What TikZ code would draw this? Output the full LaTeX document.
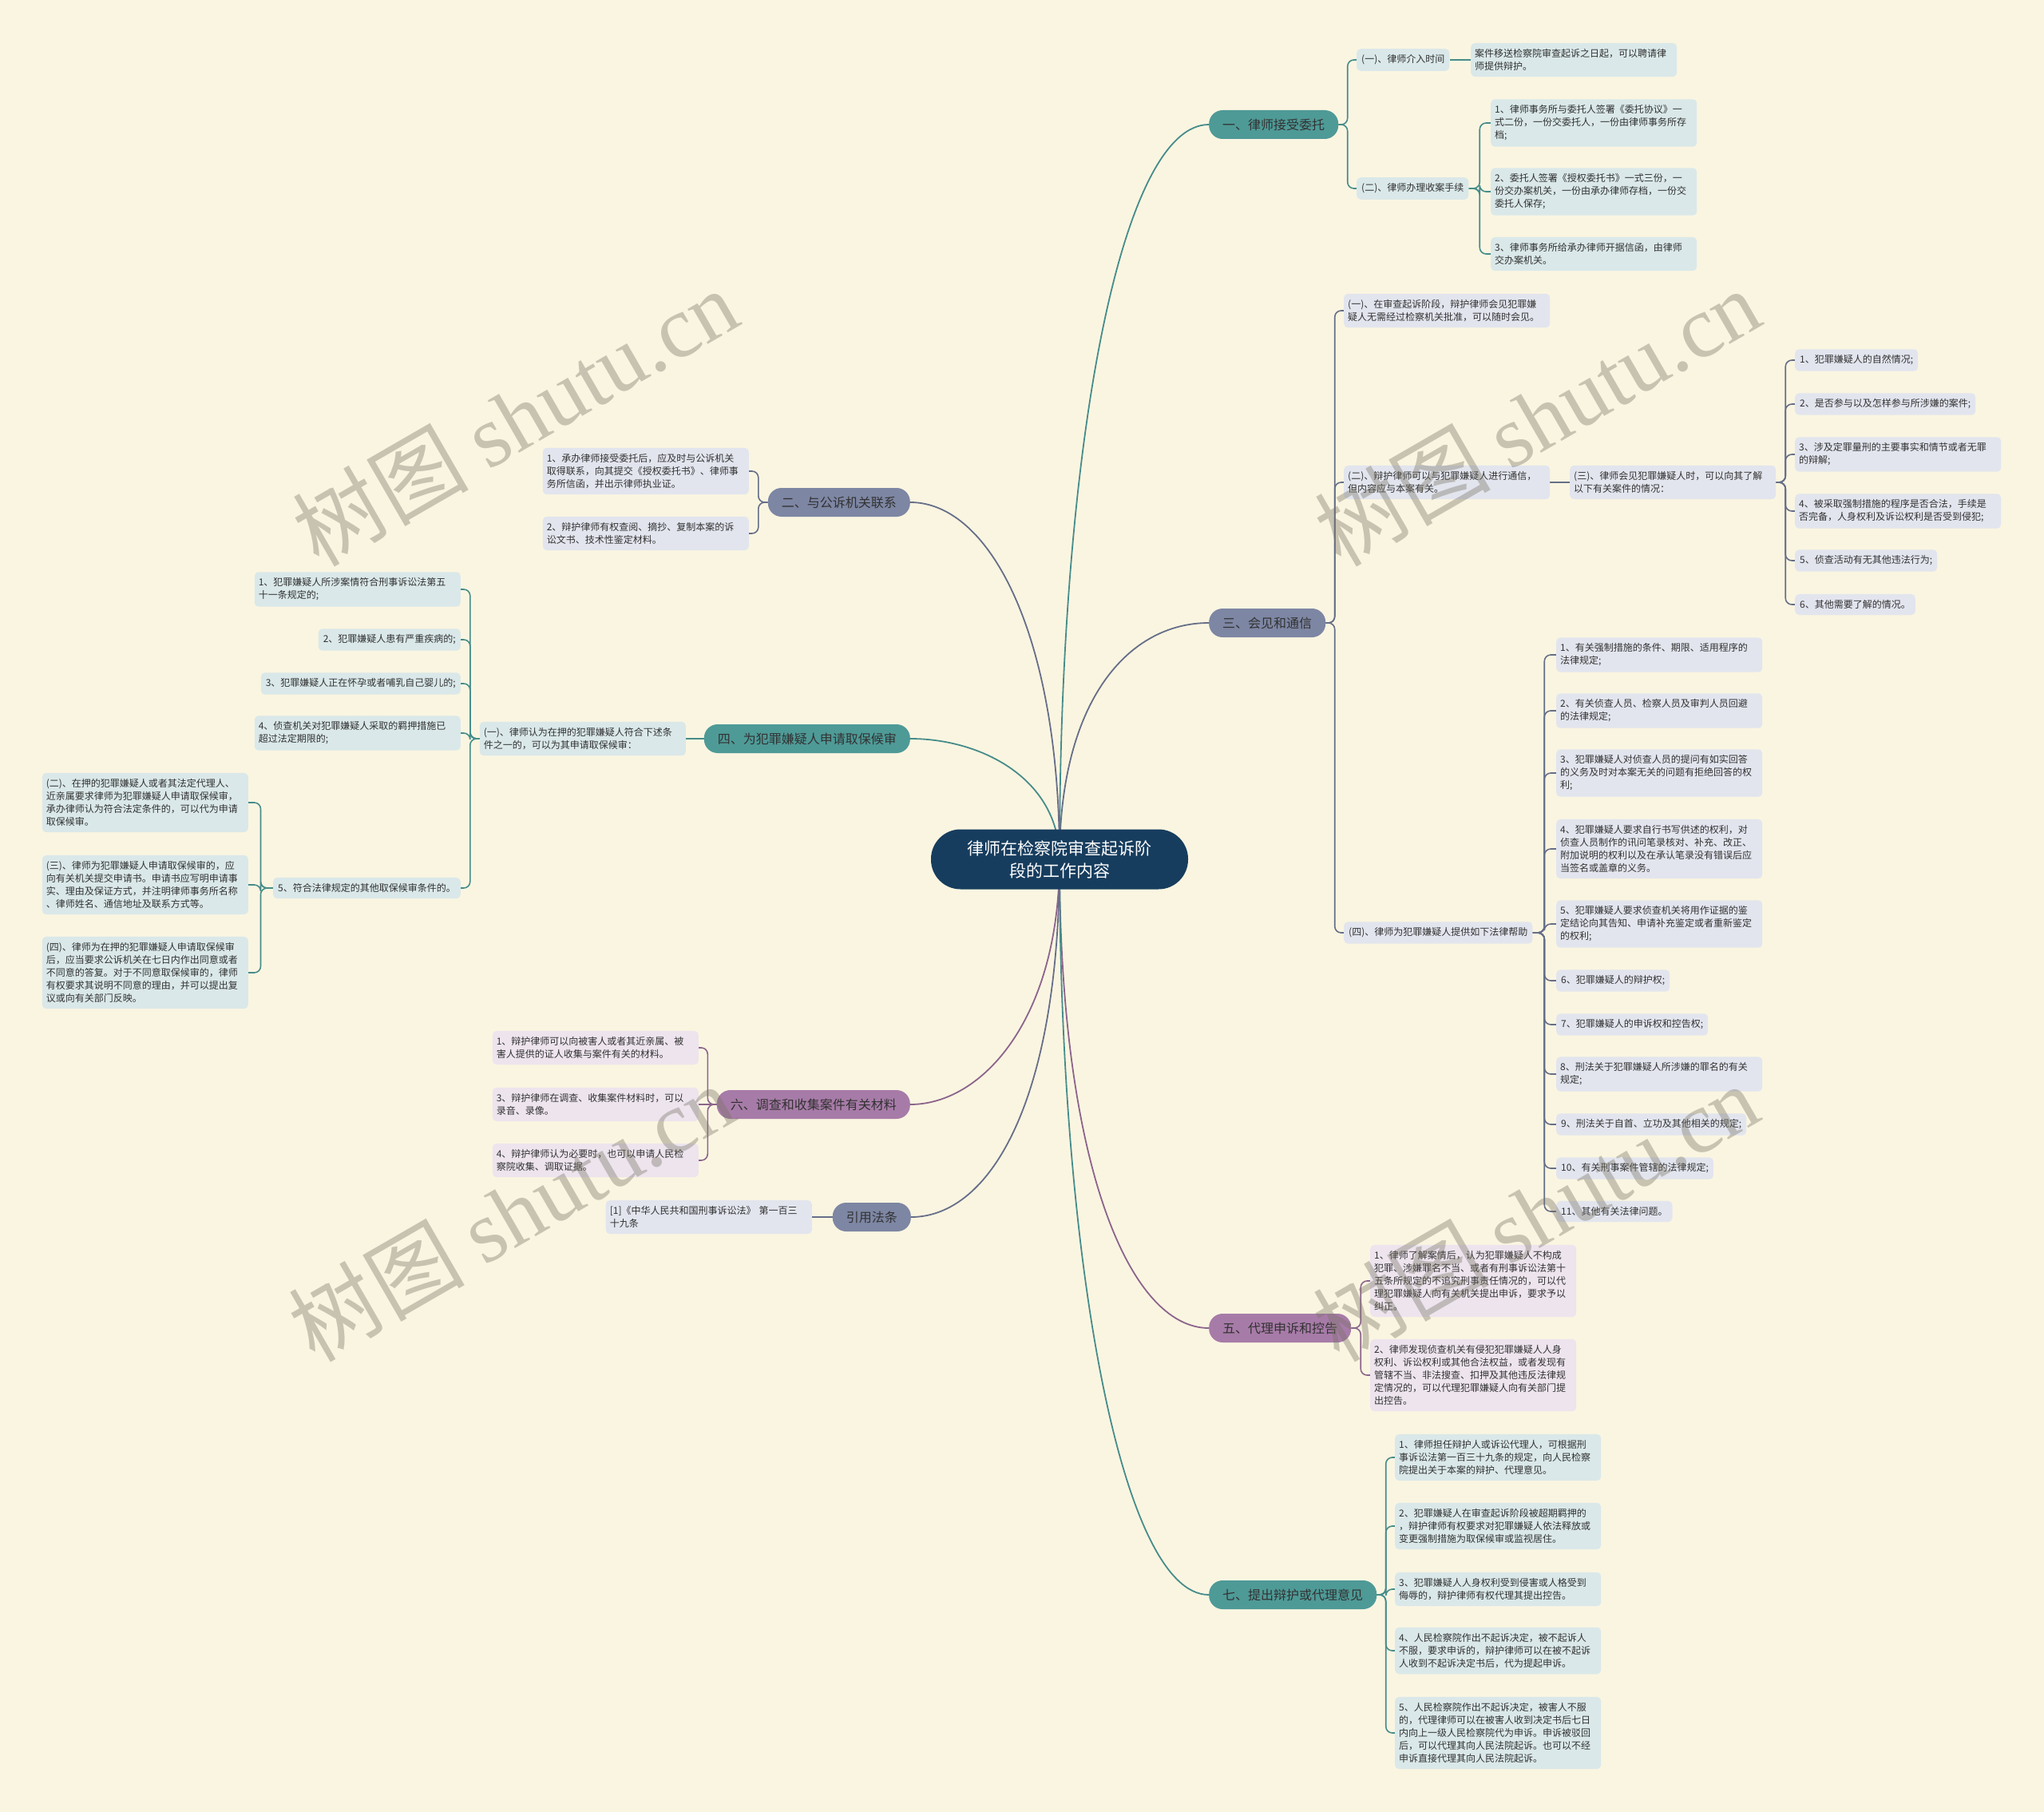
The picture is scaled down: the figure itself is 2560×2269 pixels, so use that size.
\documentclass[tikz,border=0pt]{standalone}
\usepackage{fontspec}
\setmainfont{Noto Sans CJK SC}
\newfontfamily\wmlatin{Liberation Serif}
\usetikzlibrary{calc,backgrounds}

\definecolor{bgcream}{RGB}{250,245,225}
\definecolor{rootblue}{RGB}{23,61,94}
\definecolor{tealmain}{RGB}{78,154,151}
\definecolor{tealline}{RGB}{70,140,138}
\definecolor{tealleaf}{RGB}{218,232,233}
\definecolor{slatemain}{RGB}{125,134,163}
\definecolor{slateline}{RGB}{102,110,136}
\definecolor{slateleaf}{RGB}{226,229,238}
\definecolor{plummain}{RGB}{167,123,168}
\definecolor{plumline}{RGB}{140,100,140}
\definecolor{plumleaf}{RGB}{237,228,238}
\definecolor{inktext}{RGB}{50,50,50}
\definecolor{wmgray}{RGB}{120,115,100}

\tikzset{
  rootnode/.style={rectangle, rounded corners=37pt, fill=rootblue, text=white,
    minimum width=322pt, minimum height=75pt, align=center,
    font=\fontsize{21}{28}\selectfont},
  topic/.style={rectangle, rounded corners=17pt, minimum height=36pt,
    inner xsep=17pt, text=inktext, font=\fontsize{16}{20}\selectfont},
  leafbox/.style={rectangle, rounded corners=5pt, inner xsep=6pt, inner ysep=7.5pt,
    align=left, text=inktext, font=\fontsize{12}{16}\selectfont},
  wide/.style={text width=248pt, inner xsep=5pt},
  limb/.style={line width=1.8pt},
  twig/.style={line width=1.6pt, rounded corners=8pt},
  wmark/.style={text=wmgray, text opacity=0.38, rotate=30,
    font=\fontsize{110}{110}\selectfont},
}

\begin{document}
\begin{tikzpicture}[x=1pt,y=-1pt]
\useasboundingbox (0,0) rectangle (2560,2269);

% centre
\node[rootnode] (root) at (1327,1076) {律师在检察院审查起诉阶\\段的工作内容};

% main topics, right side
\node[topic, fill=tealmain, anchor=west] (b1) at (1514,156) {一、律师接受委托};
\node[topic, fill=slatemain, anchor=west] (b3) at (1514,780) {三、会见和通信};
\node[topic, fill=plummain, anchor=west] (b5) at (1514,1663) {五、代理申诉和控告};
\node[topic, fill=tealmain, anchor=west] (b7) at (1514,1997) {七、提出辩护或代理意见};

% main topics, left side
\node[topic, fill=slatemain, anchor=east] (b2) at (1140,629) {二、与公诉机关联系};
\node[topic, fill=tealmain, anchor=east] (b4) at (1140,925) {四、为犯罪嫌疑人申请取保候审};
\node[topic, fill=plummain, anchor=east] (b6) at (1140,1383) {六、调查和收集案件有关材料};
\node[topic, fill=slatemain, anchor=east] (bref) at (1141,1524) {引用法条};

% 一
\node[leafbox, fill=tealleaf, anchor=west] (b1a) at (1699,75) {(一)、律师介入时间};
\node[leafbox, wide, fill=tealleaf, anchor=west] (b1a1) at (1842,75) {案件移送检察院审查起诉之日起，可以聘请律\\师提供辩护。};
\node[leafbox, fill=tealleaf, anchor=west] (b1b) at (1699,236) {(二)、律师办理收案手续};
\node[leafbox, wide, fill=tealleaf, anchor=west] (b1b1) at (1867,154) {1、律师事务所与委托人签署《委托协议》一\\式二份，一份交委托人，一份由律师事务所存\\档;};
\node[leafbox, wide, fill=tealleaf, anchor=west] (b1b2) at (1867,240) {2、委托人签署《授权委托书》一式三份，一\\份交办案机关，一份由承办律师存档，一份交\\委托人保存;};
\node[leafbox, wide, fill=tealleaf, anchor=west] (b1b3) at (1867,318) {3、律师事务所给承办律师开据信函，由律师\\交办案机关。};

% 三
\node[leafbox, wide, fill=slateleaf, anchor=west] (b3a) at (1683,389) {(一)、在审查起诉阶段，辩护律师会见犯罪嫌\\疑人无需经过检察机关批准，可以随时会见。};
\node[leafbox, wide, fill=slateleaf, anchor=west] (b3b) at (1683,604) {(二)、辩护律师可以与犯罪嫌疑人进行通信，\\但内容应与本案有关。};
\node[leafbox, wide, fill=slateleaf, anchor=west] (b3c) at (1966,604) {(三)、律师会见犯罪嫌疑人时，可以向其了解\\以下有关案件的情况：};
\node[leafbox, fill=slateleaf, anchor=west] (b3c1) at (2248,451) {1、犯罪嫌疑人的自然情况;};
\node[leafbox, fill=slateleaf, anchor=west] (b3c2) at (2248,506) {2、是否参与以及怎样参与所涉嫌的案件;};
\node[leafbox, wide, fill=slateleaf, anchor=west] (b3c3) at (2248,569) {3、涉及定罪量刑的主要事实和情节或者无罪\\的辩解;};
\node[leafbox, wide, fill=slateleaf, anchor=west] (b3c4) at (2248,640) {4、被采取强制措施的程序是否合法，手续是\\否完备，人身权利及诉讼权利是否受到侵犯;};
\node[leafbox, fill=slateleaf, anchor=west] (b3c5) at (2248,702) {5、侦查活动有无其他违法行为;};
\node[leafbox, fill=slateleaf, anchor=west] (b3c6) at (2248,757) {6、其他需要了解的情况。};
\node[leafbox, fill=slateleaf, anchor=west] (b3d) at (1683,1168) {(四)、律师为犯罪嫌疑人提供如下法律帮助};
\node[leafbox, wide, fill=slateleaf, anchor=west] (b3d1) at (1949,820) {1、有关强制措施的条件、期限、适用程序的\\法律规定;};
\node[leafbox, wide, fill=slateleaf, anchor=west] (b3d2) at (1949,890) {2、有关侦查人员、检察人员及审判人员回避\\的法律规定;};
\node[leafbox, wide, fill=slateleaf, anchor=west] (b3d3) at (1949,968) {3、犯罪嫌疑人对侦查人员的提问有如实回答\\的义务及时对本案无关的问题有拒绝回答的权\\利;};
\node[leafbox, wide, fill=slateleaf, anchor=west] (b3d4) at (1949,1063) {4、犯罪嫌疑人要求自行书写供述的权利，对\\侦查人员制作的讯问笔录核对、补充、改正、\\附加说明的权利以及在承认笔录没有错误后应\\当签名或盖章的义务。};
\node[leafbox, wide, fill=slateleaf, anchor=west] (b3d5) at (1949,1157) {5、犯罪嫌疑人要求侦查机关将用作证据的鉴\\定结论向其告知、申请补充鉴定或者重新鉴定\\的权利;};
\node[leafbox, fill=slateleaf, anchor=west] (b3d6) at (1949,1228) {6、犯罪嫌疑人的辩护权;};
\node[leafbox, fill=slateleaf, anchor=west] (b3d7) at (1949,1283) {7、犯罪嫌疑人的申诉权和控告权;};
\node[leafbox, wide, fill=slateleaf, anchor=west] (b3d8) at (1949,1345) {8、刑法关于犯罪嫌疑人所涉嫌的罪名的有关\\规定;};
\node[leafbox, fill=slateleaf, anchor=west] (b3d9) at (1949,1408) {9、刑法关于自首、立功及其他相关的规定;};
\node[leafbox, fill=slateleaf, anchor=west] (b3d10) at (1949,1463) {10、有关刑事案件管辖的法律规定;};
\node[leafbox, fill=slateleaf, anchor=west] (b3d11) at (1949,1517) {11、其他有关法律问题。};

% 五
\node[leafbox, wide, fill=plumleaf, anchor=west] (b5a) at (1716,1604) {1、律师了解案情后，认为犯罪嫌疑人不构成\\犯罪、涉嫌罪名不当、或者有刑事诉讼法第十\\五条所规定的不追究刑事责任情况的，可以代\\理犯罪嫌疑人向有关机关提出申诉，要求予以\\纠正。};
\node[leafbox, wide, fill=plumleaf, anchor=west] (b5b) at (1716,1722) {2、律师发现侦查机关有侵犯犯罪嫌疑人人身\\权利、诉讼权利或其他合法权益，或者发现有\\管辖不当、非法搜查、扣押及其他违反法律规\\定情况的，可以代理犯罪嫌疑人向有关部门提\\出控告。};

% 七
\node[leafbox, wide, fill=tealleaf, anchor=west] (b7a) at (1747,1825) {1、律师担任辩护人或诉讼代理人，可根据刑\\事诉讼法第一百三十九条的规定，向人民检察\\院提出关于本案的辩护、代理意见。};
\node[leafbox, wide, fill=tealleaf, anchor=west] (b7b) at (1747,1911) {2、犯罪嫌疑人在审查起诉阶段被超期羁押的\\，辩护律师有权要求对犯罪嫌疑人依法释放或\\变更强制措施为取保候审或监视居住。};
\node[leafbox, wide, fill=tealleaf, anchor=west] (b7c) at (1747,1990) {3、犯罪嫌疑人人身权利受到侵害或人格受到\\侮辱的，辩护律师有权代理其提出控告。};
\node[leafbox, wide, fill=tealleaf, anchor=west] (b7d) at (1747,2067) {4、人民检察院作出不起诉决定，被不起诉人\\不服，要求申诉的，辩护律师可以在被不起诉\\人收到不起诉决定书后，代为提起申诉。};
\node[leafbox, wide, fill=tealleaf, anchor=west] (b7e) at (1747,2170) {5、人民检察院作出不起诉决定，被害人不服\\的，代理律师可以在被害人收到决定书后七日\\内向上一级人民检察院代为申诉。申诉被驳回\\后，可以代理其向人民法院起诉。也可以不经\\申诉直接代理其向人民法院起诉。};

% 二
\node[leafbox, wide, fill=slateleaf, anchor=east] (b2a) at (938,590) {1、承办律师接受委托后，应及时与公诉机关\\取得联系，向其提交《授权委托书》、律师事\\务所信函，并出示律师执业证。};
\node[leafbox, wide, fill=slateleaf, anchor=east] (b2b) at (938,668) {2、辩护律师有权查阅、摘抄、复制本案的诉\\讼文书、技术性鉴定材料。};

% 四
\node[leafbox, wide, fill=tealleaf, anchor=east] (b4a) at (859,925) {(一)、律师认为在押的犯罪嫌疑人符合下述条\\件之一的，可以为其申请取保候审：};
\node[leafbox, wide, fill=tealleaf, anchor=east] (b4a1) at (577,738) {1、犯罪嫌疑人所涉案情符合刑事诉讼法第五\\十一条规定的;};
\node[leafbox, fill=tealleaf, anchor=east] (b4a2) at (577,801) {2、犯罪嫌疑人患有严重疾病的;};
\node[leafbox, fill=tealleaf, anchor=east] (b4a3) at (577,856) {3、犯罪嫌疑人正在怀孕或者哺乳自己婴儿的;};
\node[leafbox, wide, fill=tealleaf, anchor=east] (b4a4) at (577,918) {4、侦查机关对犯罪嫌疑人采取的羁押措施已\\超过法定期限的;};
\node[leafbox, fill=tealleaf, anchor=east] (b4a5) at (577,1112) {5、符合法律规定的其他取保候审条件的。};
\node[leafbox, wide, fill=tealleaf, anchor=east] (b4a5a) at (311,1005) {(二)、在押的犯罪嫌疑人或者其法定代理人、\\近亲属要求律师为犯罪嫌疑人申请取保候审，\\承办律师认为符合法定条件的，可以代为申请\\取保候审。};
\node[leafbox, wide, fill=tealleaf, anchor=east] (b4a5b) at (311,1108) {(三)、律师为犯罪嫌疑人申请取保候审的，应\\向有关机关提交申请书。申请书应写明申请事\\实、理由及保证方式，并注明律师事务所名称\\、律师姓名、通信地址及联系方式等。};
\node[leafbox, wide, fill=tealleaf, anchor=east] (b4a5c) at (311,1218) {(四)、律师为在押的犯罪嫌疑人申请取保候审\\后，应当要求公诉机关在七日内作出同意或者\\不同意的答复。对于不同意取保候审的，律师\\有权要求其说明不同意的理由，并可以提出复\\议或向有关部门反映。};

% 六
\node[leafbox, wide, fill=plumleaf, anchor=east] (b6a) at (875,1312) {1、辩护律师可以向被害人或者其近亲属、被\\害人提供的证人收集与案件有关的材料。};
\node[leafbox, wide, fill=plumleaf, anchor=east] (b6b) at (875,1383) {3、辩护律师在调查、收集案件材料时，可以\\录音、录像。};
\node[leafbox, wide, fill=plumleaf, anchor=east] (b6c) at (875,1453) {4、辩护律师认为必要时，也可以申请人民检\\察院收集、调取证据。};

% 引用法条
\node[leafbox, wide, fill=slateleaf, anchor=east] (bref1) at (1017,1524) {[1]《中华人民共和国刑事诉讼法》 第一百三\\十九条};

\begin{scope}[on background layer]
  \fill[bgcream] (0,0) rectangle (2560,2269);

  % curves from the centre
  \draw[limb, tealline] (root.center) .. controls +(0,-520) and +(-110,0) .. (b1.west);
  \draw[limb, slateline] (root.center) .. controls +(0,-200) and +(-100,0) .. (b3.west);
  \draw[limb, plumline] (root.center) .. controls +(0,380) and +(-100,0) .. (b5.west);
  \draw[limb, tealline] (root.center) .. controls +(0,500) and +(-110,0) .. (b7.west);
  \draw[limb, slateline] (root.center) .. controls +(0,-280) and +(100,0) .. (b2.east);
  \draw[limb, tealline] (root.center) .. controls +(0,-100) and +(90,0) .. (b4.east);
  \draw[limb, plumline] (root.center) .. controls +(0,200) and +(90,0) .. (b6.east);
  \draw[limb, slateline] (root.center) .. controls +(0,300) and +(100,0) .. (bref.east);

  % brackets, right side
  \foreach \c in {b1a,b1b}
    \draw[twig, tealline] (b1.east) -- ($(b1.east)!.5!(b1.east -| \c.west)$) |- (\c.west);
  \draw[twig, tealline] (b1a.east) -- (b1a1.west);
  \foreach \c in {b1b1,b1b2,b1b3}
    \draw[twig, tealline] (b1b.east) -- ($(b1b.east)!.5!(b1b.east -| \c.west)$) |- (\c.west);
  \foreach \c in {b3a,b3b,b3d}
    \draw[twig, slateline] (b3.east) -- ($(b3.east)!.5!(b3.east -| \c.west)$) |- (\c.west);
  \draw[twig, slateline] (b3b.east) -- (b3c.west);
  \foreach \c in {b3c1,b3c2,b3c3,b3c4,b3c5,b3c6}
    \draw[twig, slateline] (b3c.east) -- ($(b3c.east)!.5!(b3c.east -| \c.west)$) |- (\c.west);
  \foreach \c in {b3d1,b3d2,b3d3,b3d4,b3d5,b3d6,b3d7,b3d8,b3d9,b3d10,b3d11}
    \draw[twig, slateline] (b3d.east) -- ($(b3d.east)!.5!(b3d.east -| \c.west)$) |- (\c.west);
  \foreach \c in {b5a,b5b}
    \draw[twig, plumline] (b5.east) -- ($(b5.east)!.5!(b5.east -| \c.west)$) |- (\c.west);
  \foreach \c in {b7a,b7b,b7c,b7d,b7e}
    \draw[twig, tealline] (b7.east) -- ($(b7.east)!.5!(b7.east -| \c.west)$) |- (\c.west);

  % brackets, left side
  \foreach \c in {b2a,b2b}
    \draw[twig, slateline] (b2.west) -- ($(b2.west)!.5!(b2.west -| \c.east)$) |- (\c.east);
  \draw[twig, tealline] (b4.west) -- (b4a.east);
  \foreach \c in {b4a1,b4a2,b4a3,b4a4,b4a5}
    \draw[twig, tealline] (b4a.west) -- ($(b4a.west)!.5!(b4a.west -| \c.east)$) |- (\c.east);
  \foreach \c in {b4a5a,b4a5b,b4a5c}
    \draw[twig, tealline] (b4a5.west) -- ($(b4a5.west)!.5!(b4a5.west -| \c.east)$) |- (\c.east);
  \foreach \c in {b6a,b6c}
    \draw[twig, plumline] (b6.west) -- ($(b6.west)!.5!(b6.west -| \c.east)$) |- (\c.east);
  \draw[twig, plumline] (b6.west) -- (b6b.east);
  \draw[twig, slateline] (bref.west) -- (bref1.east);
\end{scope}

% watermarks
\foreach \p [count=\i] in {(645,522),(1925,522),(640,1518),(1923,1518)}
  \node[wmark] (wm\i) at \p {树图 {\wmlatin shutu.cn}};
\end{tikzpicture}
\end{document}
